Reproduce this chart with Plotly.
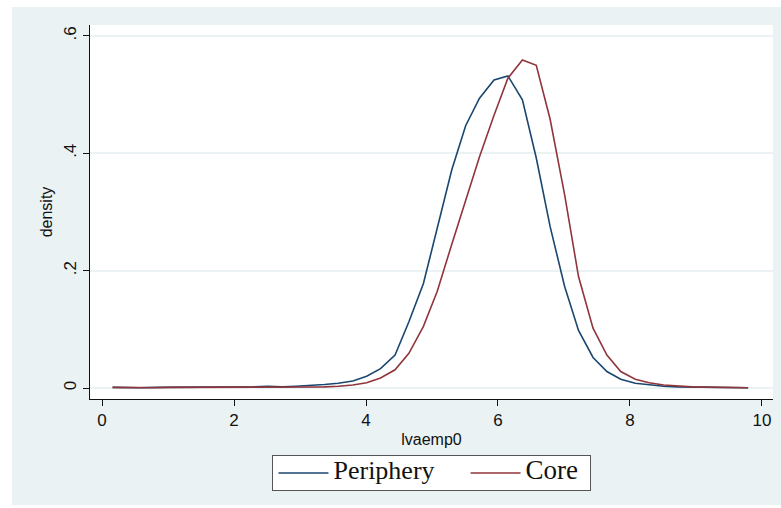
import plotly.graph_objects as go

x_vals = [0.16, 0.37, 0.58, 0.80, 1.01, 1.23, 1.44, 1.65, 1.87, 2.08, 2.30, 2.51,
          2.73, 2.94, 3.15, 3.37, 3.58, 3.80, 4.01, 4.22, 4.44, 4.65, 4.87, 5.08,
          5.30, 5.51, 5.72, 5.94, 6.15, 6.37, 6.58, 6.79, 7.01, 7.22, 7.44, 7.65,
          7.86, 8.08, 8.29, 8.51, 8.72, 8.94, 9.15, 9.36, 9.58, 9.79]

periphery = [0.001, 0.0005, 0.0005, 0.001, 0.001, 0.001, 0.001, 0.001, 0.001, 0.0015,
             0.002, 0.003, 0.002, 0.003, 0.004, 0.006, 0.008, 0.012, 0.020, 0.033,
             0.056, 0.113, 0.178, 0.275, 0.372, 0.447, 0.494, 0.525, 0.532, 0.491,
             0.392, 0.275, 0.173, 0.098, 0.052, 0.028, 0.015, 0.008, 0.005, 0.003,
             0.002, 0.0015, 0.001, 0.0008, 0.0005, 0.0003]

core = [0.001, 0.0005, 0.0003, 0.0005, 0.001, 0.001, 0.001, 0.001, 0.001, 0.001,
        0.001, 0.0012, 0.0015, 0.002, 0.002, 0.002, 0.003, 0.005, 0.009, 0.017,
        0.031, 0.059, 0.105, 0.165, 0.245, 0.320, 0.394, 0.465, 0.528, 0.559,
        0.550, 0.458, 0.329, 0.190, 0.102, 0.056, 0.028, 0.015, 0.009, 0.005,
        0.003, 0.002, 0.0015, 0.001, 0.0006, 0.0003]

y_ticks = [0, 0.2, 0.4, 0.6]
y_tick_labels = ["0", ".2", ".4", ".6"]
x_ticks = [0, 2, 4, 6, 8, 10]

BG = "#eaf2f3"
NAVY = "#1a476f"
MAROON = "#90353b"
SANS = "Liberation Sans, Arial, sans-serif"
SERIF = "Liberation Serif, Times New Roman, serif"

fig = go.Figure()
fig.add_trace(go.Scatter(x=x_vals, y=periphery, mode="lines",
                         name="<span style='font-size:26px'>Periphery&nbsp;&nbsp;&nbsp;&nbsp;</span>",
                         line=dict(color=NAVY, width=1.6)))
fig.add_trace(go.Scatter(x=x_vals, y=core, mode="lines",
                         name="<span style='font-size:27px'>Core&nbsp;</span>",
                         line=dict(color=MAROON, width=1.6)))

fig.update_layout(
    width=781, height=508,
    margin=dict(l=90, r=8, t=25, b=109),
    paper_bgcolor=BG,
    plot_bgcolor="white",
    font=dict(family=SANS, size=16, color="#111"),
    showlegend=True,
    legend=dict(orientation="h", x=0.5007, xanchor="center", y=-0.150, yanchor="top",
                bgcolor="white", bordercolor="#555", borderwidth=1,
                font=dict(family=SERIF, size=16, color="#111"),
                itemwidth=50, tracegroupgap=0),
    xaxis=dict(range=[-0.182, 10.167], tickvals=x_ticks, showgrid=False, zeroline=False,
               showline=True, linecolor="#111", linewidth=1,
               ticks="outside", ticklen=6, tickcolor="#111",
               title=dict(text="lvaemp0", standoff=4, font=dict(size=16)),
               tickfont=dict(size=17)),
    yaxis=dict(range=[-0.01875, 0.6187], tickvals=y_ticks, ticktext=y_tick_labels,
               showgrid=True, gridcolor=BG, gridwidth=1.5, zeroline=False,
               showline=True, linecolor="#111", linewidth=1,
               ticks="outside", ticklen=6, tickcolor="#111", tickangle=-90,
               title=dict(text="density", standoff=4, font=dict(size=16)),
               tickfont=dict(size=17)),
    shapes=[
        dict(type="rect", xref="paper", yref="paper", x0=-0.2, x1=-0.1142, y0=-0.5, y1=1.2,
             fillcolor="white", line=dict(width=0), layer="below"),
        dict(type="rect", xref="paper", yref="paper", x0=-0.2, x1=1.2, y0=1.0481, y1=1.2,
             fillcolor="white", line=dict(width=0), layer="below"),
        dict(type="rect", xref="paper", yref="paper", x0=-0.2, x1=1.2, y0=-0.5, y1=-0.2834,
             fillcolor="white", line=dict(width=0), layer="below"),
    ],
)

fig.write_html("out.html")
